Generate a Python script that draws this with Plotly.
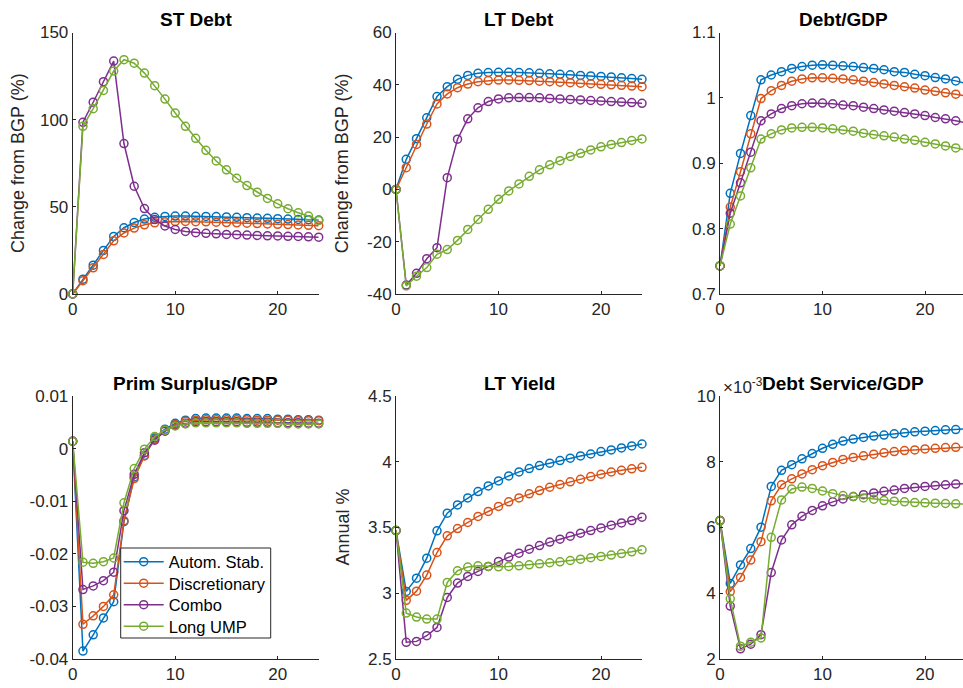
import plotly.graph_objects as go

periods = list(range(25))
series_names = ["Autom. Stab.", "Discretionary", "Combo", "Long UMP"]
colors = ["#0072BD", "#D95319", "#7E2F8E", "#77AC30"]

st_debt_auto = [0, 8.5, 16.5, 25, 33, 38, 41, 43, 44, 44.5, 44.7, 44.7, 44.6, 44.5, 44.4, 44.2, 44, 43.8, 43.6, 43.4, 43.2, 43, 42.8, 42.6, 42.4]
st_debt_disc = [0, 7.6, 15, 22.7, 30.5, 35, 37.8, 39.7, 40.8, 41.4, 41.6, 41.6, 41.5, 41.4, 41.2, 41, 40.8, 40.6, 40.4, 40.2, 40, 39.8, 39.6, 39.4, 39.2]
st_debt_combo = [0, 98.5, 110, 121.8, 133.6, 86.3, 61.8, 49, 42.7, 39, 37, 35.9, 35.2, 34.8, 34.5, 34.2, 34, 33.8, 33.6, 33.4, 33.3, 33.1, 33, 32.8, 32.6]
st_debt_long = [0, 96.2, 106.3, 116.8, 127.9, 134.4, 132.4, 126.7, 119.5, 111.8, 103.8, 96.2, 89.3, 82.4, 76.3, 71.2, 66.4, 62.2, 58.4, 54.8, 51.7, 48.9, 46.6, 44.7, 42.2]

lt_debt_auto = [0, 11.5, 19.4, 27.4, 35.5, 39.3, 42.1, 43.6, 44.4, 44.7, 44.8, 44.8, 44.7, 44.6, 44.4, 44.2, 44, 43.8, 43.6, 43.4, 43.2, 43, 42.7, 42.4, 42.1]
lt_debt_disc = [0, 8.3, 17.2, 25, 32.7, 36.5, 38.9, 40.3, 41.2, 41.6, 41.8, 41.8, 41.7, 41.6, 41.4, 41.2, 41, 40.8, 40.6, 40.4, 40.2, 40, 39.8, 39.5, 39.3]
lt_debt_combo = [0, -36.6, -32.1, -26.5, -22.3, 4.5, 19.2, 27, 31.2, 33.6, 34.6, 35, 35.1, 35.1, 35, 34.8, 34.6, 34.4, 34.2, 34, 33.8, 33.6, 33.4, 33.2, 32.9]
lt_debt_long = [0, -36.9, -33.2, -29.9, -24.8, -23, -19.5, -15.3, -11.5, -7.6, -3.8, -0.6, 2.1, 5, 7.5, 9.4, 11, 12.6, 13.8, 15.1, 16.3, 17.2, 17.9, 18.7, 19.3]

debt_gdp_auto = [0.743, 0.854, 0.915, 0.973, 1.0276, 1.035, 1.040, 1.045, 1.048, 1.050, 1.0505, 1.050, 1.049, 1.048, 1.0464, 1.045, 1.043, 1.040, 1.039, 1.036, 1.034, 1.031, 1.029, 1.026, 1.022]
debt_gdp_disc = [0.743, 0.833, 0.887, 0.945, 0.999, 1.011, 1.019, 1.0255, 1.029, 1.0306, 1.0306, 1.030, 1.029, 1.0276, 1.0255, 1.0235, 1.0214, 1.019, 1.017, 1.015, 1.012, 1.010, 1.0077, 1.0056, 1.003]
debt_gdp_combo = [0.743, 0.8235, 0.870, 0.917, 0.965, 0.9755, 0.9837, 0.988, 0.991, 0.992, 0.992, 0.991, 0.989, 0.988, 0.9857, 0.9837, 0.9816, 0.9796, 0.9776, 0.9755, 0.973, 0.970, 0.968, 0.965, 0.962]
debt_gdp_long = [0.743, 0.807, 0.850, 0.893, 0.937, 0.945, 0.951, 0.954, 0.955, 0.955, 0.954, 0.9526, 0.951, 0.949, 0.946, 0.944, 0.942, 0.940, 0.937, 0.935, 0.932, 0.9296, 0.9265, 0.9235, 0.920]

prim_surplus_auto = [0.0014, -0.0385, -0.0354, -0.0322, -0.0291, -0.0139, -0.0054, -0.0013, 0.0020, 0.0037, 0.0048, 0.0054, 0.0057, 0.0058, 0.0058, 0.0058, 0.0058, 0.0057, 0.0057, 0.0057, 0.0056, 0.0056, 0.0055, 0.0055, 0.0054]
prim_surplus_disc = [0.0014, -0.0334, -0.0318, -0.0300, -0.0278, -0.0137, -0.0057, -0.0014, 0.0018, 0.0035, 0.0046, 0.0052, 0.0054, 0.0055, 0.0055, 0.0055, 0.0055, 0.0055, 0.0054, 0.0054, 0.0054, 0.0054, 0.0053, 0.0053, 0.0053]
prim_surplus_combo = [0.0014, -0.0268, -0.0261, -0.0251, -0.0235, -0.0118, -0.0049, -0.0008, 0.0016, 0.0033, 0.0044, 0.0048, 0.0051, 0.0051, 0.0051, 0.0051, 0.0051, 0.0050, 0.0050, 0.0050, 0.0049, 0.0049, 0.0049, 0.0048, 0.0048]
prim_surplus_long = [0.0014, -0.0216, -0.0218, -0.0215, -0.0208, -0.0103, -0.0038, -0.0001, 0.0023, 0.0035, 0.0043, 0.0047, 0.0049, 0.0049, 0.0049, 0.0049, 0.0049, 0.0048, 0.0048, 0.0048, 0.0048, 0.0047, 0.0047, 0.0047, 0.0047]

lt_yield_auto = [3.477, 3.014, 3.115, 3.267, 3.475, 3.609, 3.672, 3.725, 3.773, 3.816, 3.854, 3.892, 3.923, 3.948, 3.971, 3.989, 4.009, 4.027, 4.044, 4.059, 4.077, 4.090, 4.105, 4.120, 4.135]
lt_yield_disc = [3.477, 2.946, 3.016, 3.138, 3.310, 3.437, 3.492, 3.538, 3.584, 3.622, 3.660, 3.695, 3.725, 3.756, 3.781, 3.806, 3.827, 3.847, 3.867, 3.887, 3.905, 3.922, 3.935, 3.946, 3.958]
lt_yield_combo = [3.477, 2.627, 2.634, 2.677, 2.740, 2.968, 3.077, 3.128, 3.166, 3.204, 3.242, 3.275, 3.305, 3.335, 3.363, 3.389, 3.411, 3.434, 3.457, 3.477, 3.497, 3.518, 3.535, 3.553, 3.578]
lt_yield_long = [3.477, 2.849, 2.819, 2.804, 2.804, 3.082, 3.171, 3.199, 3.209, 3.204, 3.201, 3.204, 3.209, 3.216, 3.224, 3.232, 3.239, 3.249, 3.259, 3.270, 3.280, 3.290, 3.302, 3.315, 3.330]

# Debt service / GDP, in units of 1e-3
debt_service_auto = [6.21, 4.30, 4.86, 5.36, 6.01, 7.25, 7.74, 7.91, 8.09, 8.25, 8.41, 8.53, 8.63, 8.69, 8.74, 8.78, 8.81, 8.85, 8.88, 8.91, 8.93, 8.95, 8.97, 8.98, 9.00]
debt_service_disc = [6.21, 4.05, 4.48, 5.01, 5.57, 6.81, 7.30, 7.48, 7.63, 7.76, 7.88, 7.98, 8.07, 8.13, 8.18, 8.23, 8.27, 8.31, 8.34, 8.36, 8.39, 8.41, 8.43, 8.44, 8.45]
debt_service_combo = [6.21, 3.61, 2.31, 2.45, 2.74, 4.63, 5.62, 6.08, 6.34, 6.52, 6.66, 6.78, 6.87, 6.94, 7.00, 7.05, 7.10, 7.14, 7.19, 7.22, 7.25, 7.28, 7.30, 7.32, 7.34]
debt_service_long = [6.21, 3.83, 2.39, 2.51, 2.64, 5.70, 6.84, 7.17, 7.23, 7.19, 7.11, 7.03, 6.97, 6.94, 6.90, 6.86, 6.82, 6.80, 6.78, 6.76, 6.75, 6.74, 6.73, 6.72, 6.71]

panel_titles = ["ST Debt", "LT Debt", "Debt/GDP", "Prim Surplus/GDP", "LT Yield", "Debt Service/GDP"]
panel_data = [
    [st_debt_auto, st_debt_disc, st_debt_combo, st_debt_long],
    [lt_debt_auto, lt_debt_disc, lt_debt_combo, lt_debt_long],
    [debt_gdp_auto, debt_gdp_disc, debt_gdp_combo, debt_gdp_long],
    [prim_surplus_auto, prim_surplus_disc, prim_surplus_combo, prim_surplus_long],
    [lt_yield_auto, lt_yield_disc, lt_yield_combo, lt_yield_long],
    [debt_service_auto, debt_service_disc, debt_service_combo, debt_service_long],
]
y_ranges = [[0, 150], [-40, 60], [0.7, 1.1], [-0.04, 0.01], [2.5, 4.5], [2, 10]]
y_tickvals = [
    [0, 50, 100, 150],
    [-40, -20, 0, 20, 40, 60],
    [0.7, 0.8, 0.9, 1.0, 1.1],
    [-0.04, -0.03, -0.02, -0.01, 0, 0.01],
    [2.5, 3, 3.5, 4, 4.5],
    [2, 4, 6, 8, 10],
]
y_ticktext = [
    ["0", "50", "100", "150"],
    ["-40", "-20", "0", "20", "40", "60"],
    ["0.7", "0.8", "0.9", "1", "1.1"],
    ["-0.04", "-0.03", "-0.02", "-0.01", "0", "0.01"],
    ["2.5", "3", "3.5", "4", "4.5"],
    ["2", "4", "6", "8", "10"],
]
x_tickvals = [0, 10, 20]
x_ticktext = ["0", "10", "20"]
y_titles = ["Change from BGP (%)", "Change from BGP (%)", "", "", "Annual %", ""]

W, H = 963, 688
col_px = [(72.7, 318.7), (396, 642), (720, 966)]
row_px = [(32.5, 294), (396, 659)]
legend_box_px = (120.7, 548, 270.7, 638)
legend_row_px = [562, 583.5, 605, 626.5]

FONT = "Liberation Sans, Arial, Helvetica, sans-serif"
AX = "#262626"

fig = go.Figure()
layout = dict(
    width=W, height=H,
    margin=dict(l=0, r=0, t=0, b=0),
    paper_bgcolor="white", plot_bgcolor="white",
    font=dict(family=FONT, size=17, color=AX),
    showlegend=True,
)
legend_keys = ["legend", "legend2", "legend3", "legend4"]
for k, key in enumerate(legend_keys):
    layout[key] = dict(
        x=(legend_box_px[0] - 2) / W, y=1 - legend_row_px[k] / H, xanchor="left", yanchor="middle",
        bgcolor="rgba(0,0,0,0)", borderwidth=0,
        font=dict(family=FONT, size=16.5, color="black"),
        itemwidth=40, tracegroupgap=0,
    )

annotations = []
for p in range(6):
    r, c = divmod(p, 3)
    x0p, x1p = col_px[c]
    y0p, y1p = row_px[r]
    xmax = 24
    if x1p > W:
        xmax = 24 * (W - x0p) / (x1p - x0p)
        x1p = W
    xd = [x0p / W, x1p / W]
    yd = [1 - y1p / H, 1 - y0p / H]
    n = p + 1
    xa = "xaxis" if n == 1 else f"xaxis{n}"
    ya = "yaxis" if n == 1 else f"yaxis{n}"
    common = dict(showgrid=False, zeroline=False, showline=True, linecolor=AX, linewidth=1,
                  ticks="inside", ticklen=3, tickcolor=AX, tickwidth=1,
                  tickfont=dict(family=FONT, size=17, color=AX), automargin=False, fixedrange=True)
    layout[xa] = dict(domain=xd, range=[0, xmax], anchor=f"y{n}" if n > 1 else "y",
                      tickvals=x_tickvals, ticktext=x_ticktext, **common)
    layout[ya] = dict(domain=yd, range=y_ranges[p], anchor=f"x{n}" if n > 1 else "x",
                      tickvals=y_tickvals[p], ticktext=y_ticktext[p], **common)
    for s in range(4):
        fig.add_trace(go.Scatter(
            x=periods, y=panel_data[p][s], mode="lines+markers",
            name=series_names[s], showlegend=(p == 3), legend=legend_keys[s],
            line=dict(color=colors[s], width=1.5),
            marker=dict(symbol="circle-open", size=8, color=colors[s], line=dict(width=1.5, color=colors[s])),
            xaxis=f"x{n}" if n > 1 else "x", yaxis=f"y{n}" if n > 1 else "y",
            cliponaxis=False,
        ))
    annotations.append(dict(
        text=f"<b>{panel_titles[p]}</b>", x=(col_px[c][0] + col_px[c][1]) / 2 / W,
        y=1 - (y0p - 13) / H, xref="paper", yref="paper", showarrow=False,
        xanchor="center", yanchor="middle", font=dict(family=FONT, size=19, color="black")))
    if y_titles[p]:
        annotations.append(dict(
            text=y_titles[p], textangle=-90, x=(x0p - 54) / W, y=1 - (y0p + y1p) / 2 / H,
            xref="paper", yref="paper", showarrow=False, xanchor="center", yanchor="middle",
            font=dict(family=FONT, size=18, color=AX)))

annotations.append(dict(
    text="\u00d710<sup>-3</sup>", x=721 / W, y=1 - 386 / H, xref="paper", yref="paper",
    showarrow=False, xanchor="left", yanchor="middle", font=dict(family=FONT, size=17, color=AX)))

layout["annotations"] = annotations
layout["shapes"] = [dict(
    type="rect", xref="paper", yref="paper", layer="above",
    x0=legend_box_px[0] / W, x1=legend_box_px[2] / W,
    y0=1 - legend_box_px[3] / H, y1=1 - legend_box_px[1] / H,
    fillcolor="white", line=dict(color=AX, width=1))]
fig.update_layout(**layout)
fig.write_html("out.html", config={"displayModeBar": False},
               post_script="document.body.style.margin='0';document.body.style.overflow='hidden';")
